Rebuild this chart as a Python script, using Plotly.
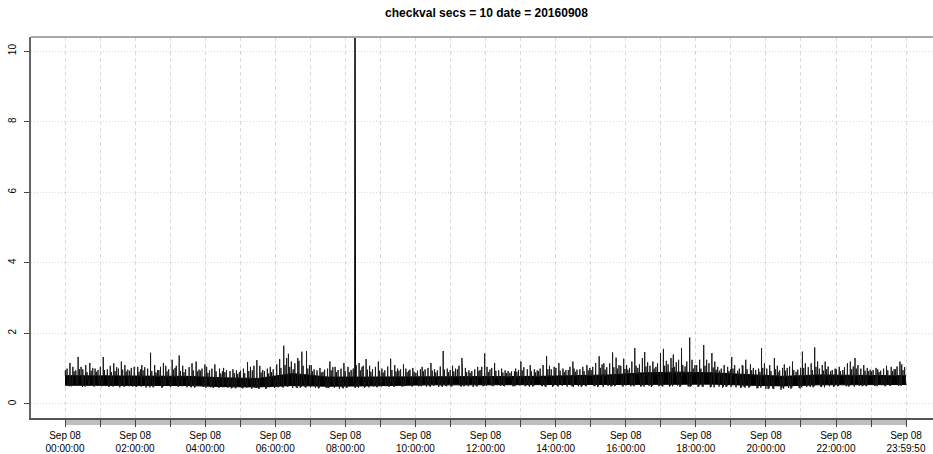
import plotly.graph_objects as go
import pandas as pd
import numpy as np

# ---- data ----
bin_minutes = 10
# per 10-minute bin: tallest spike of checkval (144 bins)
bin_high = [
    1.16, 1.05, 1.33, 1.10, 1.16, 1.00,
    1.33, 1.08, 1.15, 1.20, 1.10, 1.05,
    1.05, 1.10, 1.45, 1.10, 1.16, 1.08,
    1.25, 1.37, 1.08, 1.15, 1.20, 1.12,
    1.05, 1.12, 1.00, 1.02, 0.98, 0.95,
    1.00, 1.18, 1.24, 1.08, 1.00, 1.05,
    1.27, 1.65, 1.42, 1.30, 1.48, 1.50,
    1.10, 1.02, 1.00, 1.20, 1.05, 1.16,
    1.05, 1.10, 1.16, 1.27, 1.08, 1.20,
    1.00, 1.28, 1.10, 1.12, 1.00, 1.02,
    0.98, 1.05, 1.16, 0.98, 1.50, 1.00,
    1.08, 1.30, 1.02, 0.95, 1.05, 1.43,
    1.05, 1.16, 1.00, 0.95, 0.92, 1.00,
    1.20, 1.10, 0.98, 1.10, 1.35, 1.05,
    1.16, 1.00, 1.20, 1.00, 1.05, 1.10,
    1.16, 1.35, 1.15, 1.46, 1.31, 1.28,
    1.10, 1.58, 1.30, 1.47, 1.20, 1.44,
    1.56, 1.30, 1.40, 1.58, 1.88, 1.25,
    1.25, 1.67, 1.44, 1.20, 1.10, 1.05,
    1.33, 1.10, 1.25, 1.12, 1.00, 1.58,
    1.10, 1.30, 1.02, 1.12, 1.20, 1.02,
    1.48, 1.15, 1.60, 1.10, 1.20, 1.00,
    1.05, 1.15, 1.20, 1.30, 1.10, 1.02,
    1.02, 0.98, 1.08, 1.05, 1.20, 1.12,
]
# minute within each bin at which the tallest spike occurs
peak_minute = [
    8, 3, 2, 5, 2, 1,
    5, 7, 3, 6, 2, 8,
    4, 1, 6, 3, 8, 2,
    3, 5, 1, 7, 4, 9,
    2, 6, 4, 1, 7, 3,
    5, 2, 8, 3, 6, 1,
    7, 4, 2, 8, 5, 3,
    1, 6, 9, 3, 2, 7,
    4, 8, 3, 5, 1, 6,
    2, 7, 4, 9, 3, 5,
    8, 1, 6, 2, 7, 4,
    3, 9, 5, 1, 6, 8,
    2, 5, 7, 3, 9, 1,
    0, 6, 3, 8, 4, 7,
    5, 2, 9, 1, 6, 3,
    8, 4, 2, 7, 3, 6,
    1, 5, 8, 2, 6, 9,
    4, 7, 1, 5, 9, 3,
    6, 3, 7, 2, 8, 4,
    1, 9, 5, 3, 7, 2,
    6, 4, 8, 1, 5, 9,
    2, 7, 3, 6, 1, 8,
    5, 9, 4, 2, 7, 3,
    8, 1, 6, 4, 9, 2,
]
# per 10-minute bin: second spike of checkval (144 bins)
bin_high2 = [
    1.00, 0.95, 1.05, 0.98, 1.02, 0.96,
    1.05, 0.98, 1.04, 1.00, 0.97, 1.02,
    0.98, 1.04, 1.00, 0.96, 1.05, 0.98,
    1.02, 1.08, 0.98, 1.04, 0.97, 1.00,
    0.95, 1.00, 0.92, 0.96, 0.93, 0.90,
    0.94, 1.05, 1.08, 0.96, 0.93, 0.98,
    1.12, 1.30, 1.20, 1.15, 1.22, 1.10,
    0.98, 0.95, 0.97, 1.04, 0.96, 1.00,
    0.96, 1.00, 1.04, 1.08, 0.98, 1.05,
    0.95, 1.06, 1.00, 0.98, 0.94, 0.97,
    0.94, 0.98, 1.02, 0.95, 1.06, 0.96,
    1.00, 1.08, 0.96, 0.93, 0.98, 1.05,
    0.97, 1.02, 0.95, 0.93, 0.92, 0.96,
    1.04, 0.98, 0.95, 1.00, 1.08, 0.98,
    1.02, 0.96, 1.05, 0.97, 0.98, 1.02,
    1.05, 1.12, 1.04, 1.15, 1.10, 1.08,
    1.02, 1.20, 1.12, 1.18, 1.08, 1.15,
    1.22, 1.12, 1.18, 1.25, 1.20, 1.10,
    1.10, 1.25, 1.15, 1.05, 1.00, 0.98,
    1.10, 1.00, 1.08, 1.02, 0.96, 1.15,
    1.00, 1.08, 0.95, 1.02, 1.06, 0.97,
    1.15, 1.04, 1.20, 1.00, 1.06, 0.96,
    0.98, 1.04, 1.06, 1.10, 1.00, 0.97,
    0.96, 0.94, 1.00, 0.98, 1.06, 1.04,
]
# per 10-minute bin: third spike of checkval (144 bins)
bin_high3 = [
    0.95, 0.92, 0.98, 0.90, 0.94, 0.91,
    0.96, 0.90, 0.93, 0.97, 0.92, 0.94,
    0.91, 0.95, 0.93, 0.89, 0.96, 0.92,
    0.97, 0.93, 0.90, 0.95, 0.92, 0.94,
    0.88, 0.92, 0.86, 0.90, 0.87, 0.85,
    0.87, 0.93, 0.95, 0.89, 0.86, 0.90,
    1.02, 1.10, 1.05, 0.98, 1.08, 1.00,
    0.92, 0.89, 0.91, 0.95, 0.90, 0.93,
    0.90, 0.93, 0.95, 0.97, 0.91, 0.94,
    0.89, 0.96, 0.92, 0.94, 0.90, 0.91,
    0.88, 0.92, 0.94, 0.89, 0.97, 0.90,
    0.92, 0.98, 0.90, 0.88, 0.93, 0.96,
    0.90, 0.94, 0.89, 0.87, 0.88, 0.91,
    0.95, 0.92, 0.89, 0.93, 0.98, 0.91,
    0.94, 0.90, 0.96, 0.91, 0.93, 0.95,
    0.96, 1.02, 0.97, 1.04, 1.00, 0.99,
    0.97, 1.08, 1.02, 1.06, 1.00, 1.05,
    1.08, 1.02, 1.05, 1.10, 1.06, 1.00,
    1.00, 1.08, 1.03, 0.97, 0.94, 0.93,
    1.00, 0.94, 0.98, 0.95, 0.91, 1.02,
    0.93, 0.98, 0.90, 0.94, 0.96, 0.91,
    1.02, 0.96, 1.05, 0.94, 0.98, 0.92,
    0.93, 0.96, 0.98, 1.00, 0.94, 0.92,
    0.92, 0.90, 0.95, 0.93, 0.98, 0.96,
]
# per 10-minute bin minimum of checkval (144 bins)
bin_low = [
    0.52, 0.50, 0.48, 0.51, 0.49, 0.53,
    0.50, 0.48, 0.52, 0.47, 0.50, 0.49,
    0.48, 0.46, 0.50, 0.47, 0.45, 0.49,
    0.48, 0.50, 0.47, 0.49, 0.46, 0.48,
    0.47, 0.45, 0.48, 0.46, 0.44, 0.47,
    0.45, 0.43, 0.46, 0.44, 0.42, 0.45,
    0.47, 0.48, 0.45, 0.47, 0.46, 0.48,
    0.46, 0.44, 0.47, 0.45, 0.43, 0.46,
    0.45, 0.47, 0.48, 0.46, 0.49, 0.47,
    0.50, 0.48, 0.51, 0.49, 0.50, 0.52,
    0.50, 0.49, 0.51, 0.48, 0.50, 0.51,
    0.49, 0.51, 0.50, 0.48, 0.52, 0.50,
    0.52, 0.50, 0.53, 0.51, 0.50, 0.52,
    0.50, 0.52, 0.49, 0.51, 0.50, 0.48,
    0.51, 0.49, 0.52, 0.50, 0.48, 0.51,
    0.50, 0.48, 0.51, 0.49, 0.50, 0.52,
    0.50, 0.52, 0.49, 0.51, 0.48, 0.50,
    0.51, 0.49, 0.52, 0.48, 0.50, 0.49,
    0.48, 0.50, 0.47, 0.49, 0.46, 0.48,
    0.47, 0.45, 0.48, 0.46, 0.44, 0.43,
    0.42, 0.44, 0.40, 0.45, 0.43, 0.46,
    0.48, 0.50, 0.47, 0.49, 0.50, 0.48,
    0.50, 0.52, 0.49, 0.51, 0.50, 0.52,
    0.51, 0.53, 0.50, 0.52, 0.51, 0.53,
]
# per 10-minute bin: second dip of checkval (144 bins)
bin_low2 = [
    0.50, 0.53, 0.51, 0.49, 0.52, 0.50,
    0.52, 0.50, 0.49, 0.51, 0.48, 0.52,
    0.50, 0.49, 0.47, 0.50, 0.48, 0.51,
    0.50, 0.48, 0.50, 0.47, 0.49, 0.50,
    0.46, 0.48, 0.45, 0.47, 0.46, 0.44,
    0.44, 0.46, 0.45, 0.43, 0.45, 0.47,
    0.49, 0.46, 0.48, 0.45, 0.48, 0.46,
    0.47, 0.46, 0.45, 0.47, 0.46, 0.44,
    0.47, 0.45, 0.46, 0.48, 0.47, 0.49,
    0.49, 0.51, 0.48, 0.50, 0.52, 0.49,
    0.51, 0.50, 0.48, 0.51, 0.49, 0.50,
    0.50, 0.49, 0.52, 0.50, 0.49, 0.51,
    0.51, 0.53, 0.51, 0.50, 0.52, 0.50,
    0.52, 0.49, 0.51, 0.50, 0.48, 0.51,
    0.49, 0.51, 0.50, 0.48, 0.51, 0.50,
    0.51, 0.50, 0.48, 0.51, 0.52, 0.49,
    0.52, 0.50, 0.51, 0.49, 0.51, 0.52,
    0.49, 0.51, 0.50, 0.52, 0.49, 0.51,
    0.50, 0.48, 0.49, 0.47, 0.49, 0.50,
    0.48, 0.47, 0.46, 0.48, 0.45, 0.46,
    0.44, 0.42, 0.45, 0.43, 0.46, 0.44,
    0.47, 0.49, 0.50, 0.48, 0.47, 0.50,
    0.51, 0.50, 0.52, 0.49, 0.52, 0.50,
    0.52, 0.50, 0.52, 0.51, 0.53, 0.51,
]
# hourly dense core of the series (lower / upper edge)
core_low = [0.53, 0.53, 0.52, 0.52, 0.49, 0.48, 0.52, 0.50, 0.51, 0.53, 0.54, 0.54,
            0.55, 0.55, 0.55, 0.55, 0.56, 0.57, 0.56, 0.53, 0.51, 0.54, 0.55, 0.55]
core_high = [0.80, 0.80, 0.78, 0.78, 0.74, 0.72, 0.86, 0.76, 0.76, 0.76, 0.76, 0.76,
             0.76, 0.78, 0.80, 0.82, 0.88, 0.90, 0.88, 0.82, 0.78, 0.82, 0.80, 0.80]
# the spike around 08:16
spike_times = ["2016-09-08 08:16:20", "2016-09-08 08:16:30", "2016-09-08 08:16:40",
               "2016-09-08 08:16:50", "2016-09-08 08:17:00"]
spike_values = [0.62, 12.0, 5.2, 3.4, 0.58]

first_time = "2016-09-08 00:00:00"
last_time = "2016-09-08 23:59:50"
tick_hours = list(range(24))
y_ticks = [0, 2, 4, 6, 8, 10]
title_text = "checkval secs = 10 date = 20160908"

# ---- build traces ----
t0 = pd.Timestamp(first_time)
t_end = pd.Timestamp(last_time)
step = pd.Timedelta(seconds=10)

core_x = [t0] + [t0 + pd.Timedelta(minutes=60 * h + 30) for h in tick_hours] + [t_end]
core_lo_y = [core_low[0]] + core_low + [core_low[-1]]
core_hi_y = [core_high[0]] + core_high + [core_high[-1]]
core_x_sec = np.array([(c - t0).total_seconds() for c in core_x])


def base(t, arr):
    return float(np.interp((t - t0).total_seconds(), core_x_sec, arr))


events = []
for k in range(len(bin_low)):
    start = t0 + pd.Timedelta(minutes=k * bin_minutes)
    pm = peak_minute[k]
    for shift, secs, val, arr in ((0, 30, bin_high[k], core_hi_y),
                                  (5, 30, bin_high2[k], core_hi_y),
                                  (2, 40, bin_high3[k], core_hi_y),
                                  (7, 50, bin_low[k], core_lo_y),
                                  (9, 20, bin_low2[k], core_lo_y)):
        tc = start + pd.Timedelta(minutes=(pm + shift) % 10, seconds=secs)
        events.append((tc, val, arr))
events.sort(key=lambda e: e[0])

sx, sy = [], []
for tc, val, arr in events:
    b = base(tc, arr)
    sx += [tc - step, tc, tc + step]
    sy += [b, val, b]

fig = go.Figure()
fig.add_trace(go.Scatter(x=core_x, y=core_lo_y, mode="lines",
                         line=dict(color="black", width=1), showlegend=False,
                         hoverinfo="skip"))
fig.add_trace(go.Scatter(x=core_x, y=core_hi_y, mode="lines", fill="tonexty",
                         fillcolor="black", line=dict(color="black", width=1),
                         showlegend=False, hoverinfo="skip"))
fig.add_trace(go.Scatter(x=sx, y=sy, mode="lines",
                         line=dict(color="#1a1a1a", width=1), showlegend=False))
fig.add_trace(go.Scatter(x=pd.to_datetime(spike_times), y=spike_values, mode="lines",
                         line=dict(color="black", width=1.5), showlegend=False))

tickvals = [t0 + pd.Timedelta(hours=h) for h in tick_hours] + [t_end]
ticktext = []
for i, tv in enumerate(tickvals):
    if tv == t_end or (tv.hour % 2 == 0 and i < len(tick_hours)):
        ticktext.append(tv.strftime("%b %d") + "<br>" + tv.strftime("%H:%M:%S"))
    else:
        ticktext.append("")

px_per_hour = 841 / ((t_end - t0).total_seconds() / 3600)
x_left = t0 - pd.Timedelta(hours=34 / px_per_hour)
x_right = t_end + pd.Timedelta(hours=27 / px_per_hour)

font_family = "Liberation Sans, Arial, sans-serif"
fig.update_layout(
    width=933, height=454,
    margin=dict(l=31, r=0, t=37, b=36, autoexpand=False),
    paper_bgcolor="white", plot_bgcolor="white",
    title=dict(text="<b>" + title_text + "</b>", x=0.505, xref="paper",
               xanchor="center", y=1 - 13 / 454, yanchor="middle",
               font=dict(family=font_family, size=12, color="black")),
    font=dict(family=font_family, size=10, color="black"),
    xaxis=dict(
        range=[x_left, x_right], type="date",
        tickvals=tickvals, ticktext=ticktext,
        ticks="outside", ticklen=7, tickwidth=1.2, tickcolor="#444",
        ticklabelstandoff=0,
        showgrid=True, gridcolor="#dadada", griddash="4px,3px", gridwidth=1,
        showline=True, linecolor="#555", linewidth=1.5,
        zeroline=False, tickfont=dict(size=10, color="black"),
    ),
    yaxis=dict(
        range=[-0.4, 10.4],
        tickvals=y_ticks, ticktext=[str(v) for v in y_ticks],
        tickangle=-90,
        ticks="outside", ticklen=5, tickcolor="#444",
        ticklabelstandoff=4,
        showgrid=True, gridcolor="#dcdcdc", griddash="1px,2px", gridwidth=1,
        showline=True, linecolor="#666", linewidth=1.5,
        zeroline=False, tickfont=dict(size=10, color="black"),
    ),
    shapes=[
        dict(type="rect", xref="x", yref="paper", x0=t0, x1=t_end,
             y0=-7 / 381, y1=0, fillcolor="#bebebe", line=dict(width=0),
             layer="below"),
        dict(type="line", xref="paper", yref="paper", x0=0, x1=1, y0=1, y1=1,
             line=dict(color="#a8a8a8", width=2)),
    ],
)

fig.write_html("out.html", config={"displayModeBar": False},
               post_script="document.body.style.margin='0';document.body.style.padding='0';")
